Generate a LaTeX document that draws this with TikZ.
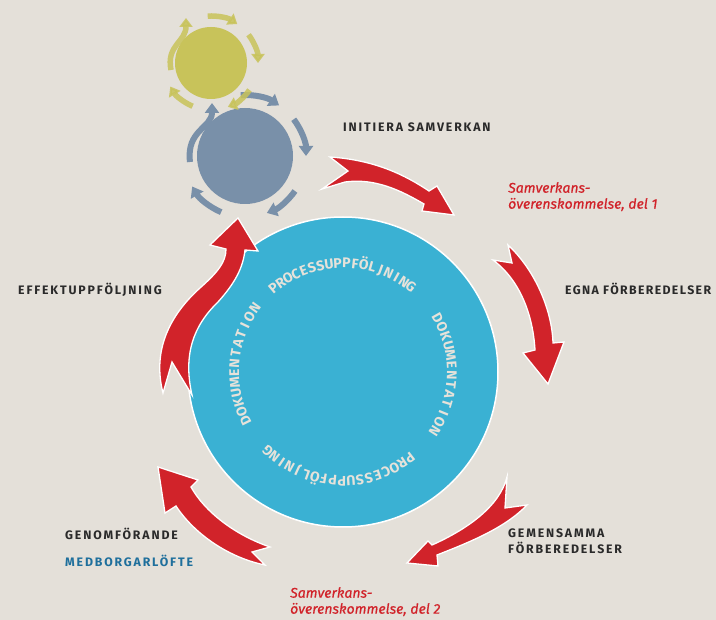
\documentclass[tikz,border=0pt]{standalone}
\usepackage{fontspec}
\setmainfont{Fira Sans}
\usetikzlibrary{arrows.meta,calc}
\definecolor{bg}{HTML}{E4E0D9}
\definecolor{cblue}{HTML}{3AB1D3}
\definecolor{cgray}{HTML}{7990A9}
\definecolor{cyel}{HTML}{C8C35A}
\definecolor{cred}{HTML}{D1232A}
\definecolor{ctxt}{HTML}{2A2A2A}
\definecolor{cmed}{HTML}{1E6F9C}
\definecolor{cring}{HTML}{E6E2DA}
\newcommand\ringtext[5]{% center angle, step, count, name, letters
  \foreach \ch [count=\i, evaluate=\i as \a using #1+(\i-(#3+1)/2)*#2] in {#5}
    \node[ringlab, rotate={-(\a)-90}] (#4\i) at ([shift={(\a:104)}]big.center) {\ch};
}
\begin{document}
\begin{tikzpicture}[x=1pt,y=-1pt,
  lab/.style={font=\fontsize{12.3}{16}\selectfont\bfseries\addfontfeature{LetterSpace=15}, text=ctxt, inner sep=0, anchor=base west, align=left},
  labtight/.style={font=\fontsize{12.3}{16}\selectfont\bfseries\addfontfeature{LetterSpace=11}, text=ctxt, inner sep=0, anchor=base west},
  redlab/.style={font=\fontsize{14}{16}\selectfont\itshape\addfontfeature{FakeBold=0.6}, text=cred, inner sep=0, anchor=north west, align=left},
  ringlab/.style={font=\fontsize{14}{15}\selectfont\bfseries, text=cring, inner sep=0, anchor=base},
  redarrow/.style={fill=cred, draw=white, line width=1.3pt, line join=miter},
  garrow/.style={draw=cgray, line width=6pt, -{Triangle[width=14pt,length=10pt]}},
  yarrow/.style={draw=cyel, line width=5.5pt, opacity=.85, -{Triangle[width=13pt,length=9pt]}},
]
\fill[bg] (0,0) rectangle (716,620);
\useasboundingbox (0,0) rectangle (716,620);

% circles
\node[circle, fill=cblue, draw=white, line width=1.5pt, minimum size=310pt, inner sep=0] (big) at (343,372) {};
\node[circle, fill=cgray, minimum size=96pt, inner sep=0] (gc) at (245,156) {};
\node[circle, fill=cyel, minimum size=72pt, inner sep=0] (yc) at (211,63) {};

% small arrows around the gray circle
\foreach \s/\e in {266/304, 323/360, 35/69, 113/150}
  \draw[garrow] ([shift={(\s:61)}]gc.center) arc[start angle=\s, end angle=\e, radius=61];
\draw[garrow] (190,162) .. controls (186,130) and (212,128) .. (212,103);

% small arrows around the yellow circle
\foreach \s/\e in {266/304, 323/360, 35/69, 113/150}
  \draw[yarrow] ([shift={(\s:47)}]yc.center) arc[start angle=\s, end angle=\e, radius=47];
\draw[yarrow] (171,70) .. controls (166,45) and (186,42) .. (186,18);

% text around the big circle
\ringtext{269.5}{4.6}{18}{pt}{P,R,O,C,E,S,S,U,P,P,F,Ö,L,J,N,I,N,G}
\ringtext{1.5}{5.2}{13}{dr}{D,O,K,U,M,E,N,T,A,T,I,O,N}
\ringtext{93}{4.8}{18}{pb}{P,R,O,C,E,S,S,U,P,P,F,Ö,L,J,N,I,N,G}
\ringtext{184.7}{5.2}{13}{dl}{D,O,K,U,M,E,N,T,A,T,I,O,N}

% red arrows
\draw[redarrow] (330,157) .. controls (375,160) and (405,175) .. (429,191) -- (437,186) -- (454,215)
  -- (422,211) -- (424,204) .. controls (400,190) and (375,178) .. (345,182) -- (322,189) -- (348,171) -- cycle;
\draw[redarrow] (508,245) .. controls (535,270) and (552,310) .. (553,343) -- (564,342) -- (548,384)
  -- (523,353) -- (535,350) .. controls (533,315) and (520,280) .. (493,260) -- (512,263) -- cycle;
\draw[redarrow] (507,477) .. controls (500,505) and (470,528) .. (432,545) -- (428,541) -- (407,563)
  -- (438,566) -- (437,555) .. controls (470,542) and (505,528) .. (527,505) -- (505,508) -- cycle;
\draw[redarrow] (270,547) .. controls (235,535) and (205,512) .. (191,487) -- (198,480) -- (158,467)
  -- (165,513) -- (176,506) .. controls (195,535) and (230,558) .. (265,565) -- (252,552) -- cycle;
\draw[redarrow] (163,393) .. controls (152,350) and (170,315) .. (200,288) .. controls (218,272) and (226,262) .. (226,249)
  -- (210,245) -- (238,218) -- (258,251) -- (245,250) .. controls (243,268) and (235,283) .. (218,302)
  .. controls (193,326) and (183,355) .. (192,395) -- (172,362) -- cycle;

% labels
\node[lab] (l1) at (343,132) {INITIERA SAMVERKAN};
\node[redlab] (r1) at (508,182) {Samverkans-\\överenskommelse, del 1};
\node[labtight] (l2) at (565,295) {EGNA FÖRBEREDELSER};
\node[lab] (l3) at (508,554) {GEMENSAMMA\\FÖRBEREDELSER};
\node[redlab] (r2) at (290,587) {Samverkans-\\överenskommelse, del 2};
\node[lab] (l4) at (65,540) {GENOMFÖRANDE};
\node[lab, text=cmed] (l5) at (65,567) {MEDBORGARLÖFTE};
\node[lab] (l6) at (18,295) {EFFEKTUPPFÖLJNING};
\end{tikzpicture}
\end{document}
